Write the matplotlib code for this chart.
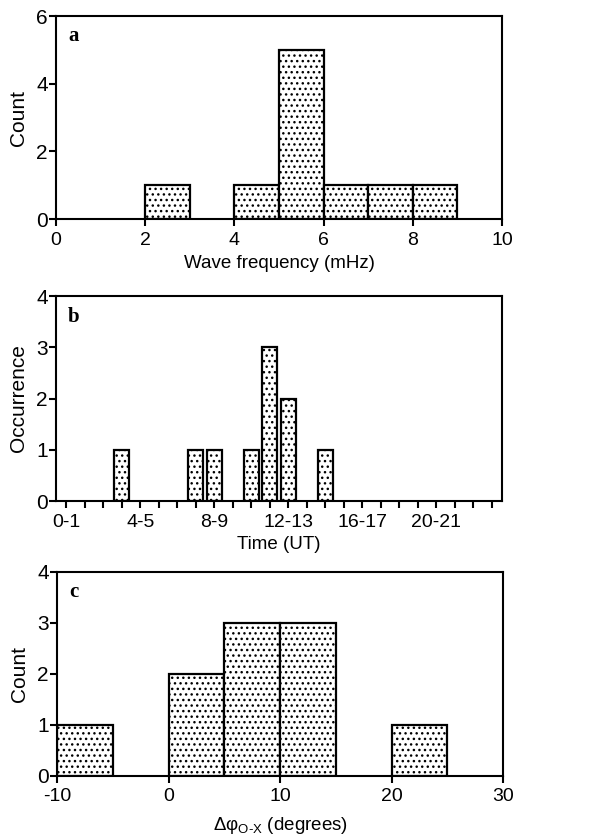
import matplotlib
matplotlib.use("Agg")
import matplotlib.pyplot as plt
import numpy as np

plt.rcParams['font.family'] = ['Liberation Sans', 'DejaVu Sans']
plt.rcParams['mathtext.fontset'] = 'custom'
plt.rcParams['mathtext.rm'] = 'Liberation Sans'
plt.rcParams['mathtext.it'] = 'Liberation Sans:italic'
plt.rcParams['axes.unicode_minus'] = False
plt.rcParams['hatch.linewidth'] = 1.0

# panel a: wave frequency histogram (bin left edges, mHz)
freq_left = [2, 4, 5, 6, 7, 8]
freq_count = [1, 1, 5, 1, 1, 1]
freq_width = 1

# panel b: occurrence by UT hour
hours = [3, 7, 8, 10, 11, 12, 14]
hour_count = [1, 1, 1, 1, 3, 2, 1]
hour_labels = ['0-1', '4-5', '8-9', '12-13', '16-17', '20-21']

# panel c: phase difference histogram (bin left edges, degrees)
phase_left = [-10, 0, 5, 10, 20]
phase_count = [1, 2, 3, 3, 1]
phase_width = 5

fig = plt.figure(figsize=(6.11, 8.36), dpi=100)
axa = fig.add_axes([0.0917, 0.738, 0.730, 0.2428])
axb = fig.add_axes([0.0917, 0.4007, 0.730, 0.2452])
axc = fig.add_axes([0.0933, 0.0718, 0.730, 0.244])

bar_kw = dict(color='white', edgecolor='black', linewidth=1.6, hatch='...')

axa.bar(freq_left, freq_count, width=freq_width, align='edge', **bar_kw)
axa.set_xlim(0, 10)
axa.set_ylim(0, 6)
axa.set_xticks([0, 2, 4, 6, 8, 10])
axa.set_yticks([0, 2, 4, 6])
axa.set_xlabel('Wave frequency (mHz)', labelpad=5)
axa.set_ylabel('Count', labelpad=6)

axb.bar(hours, hour_count, width=0.8, align='center', **bar_kw)
axb.set_xlim(-0.55, 23.55)
axb.set_ylim(0, 4)
axb.set_xticks(np.arange(24))
axb.set_xticklabels([hour_labels[i // 4] if i % 4 == 0 else '' for i in range(24)])
axb.set_yticks([0, 1, 2, 3, 4])
axb.set_xlabel('Time (UT)', labelpad=4)
axb.set_ylabel('Occurrence', labelpad=6)

axc.bar(phase_left, phase_count, width=phase_width, align='edge', **bar_kw)
axc.set_xlim(-10, 30)
axc.set_ylim(0, 4)
axc.set_xticks([-10, 0, 10, 20, 30])
axc.set_yticks([0, 1, 2, 3, 4])
axc.set_xlabel(r'Δφ$_{\mathrm{O\text{-}X}}$ (degrees)', labelpad=7)
axc.set_ylabel('Count', labelpad=6)

for ax, lab in [(axa, 'a'), (axb, 'b'), (axc, 'c')]:
    for s in ax.spines.values():
        s.set_linewidth(1.5)
    ax.tick_params(direction='out', length=5, width=1.5, labelsize=14)
    ax.tick_params(axis='x', pad=4)
    ax.tick_params(axis='y', pad=1, labelsize=15)
    ax.xaxis.label.set_size(13.5)
    ax.yaxis.label.set_size(15)
    ax.text(0.027, 0.9, lab, transform=ax.transAxes, fontsize=15,
            fontweight='bold', family='Liberation Serif', va='center')

fig.savefig('out.png', dpi=100)
